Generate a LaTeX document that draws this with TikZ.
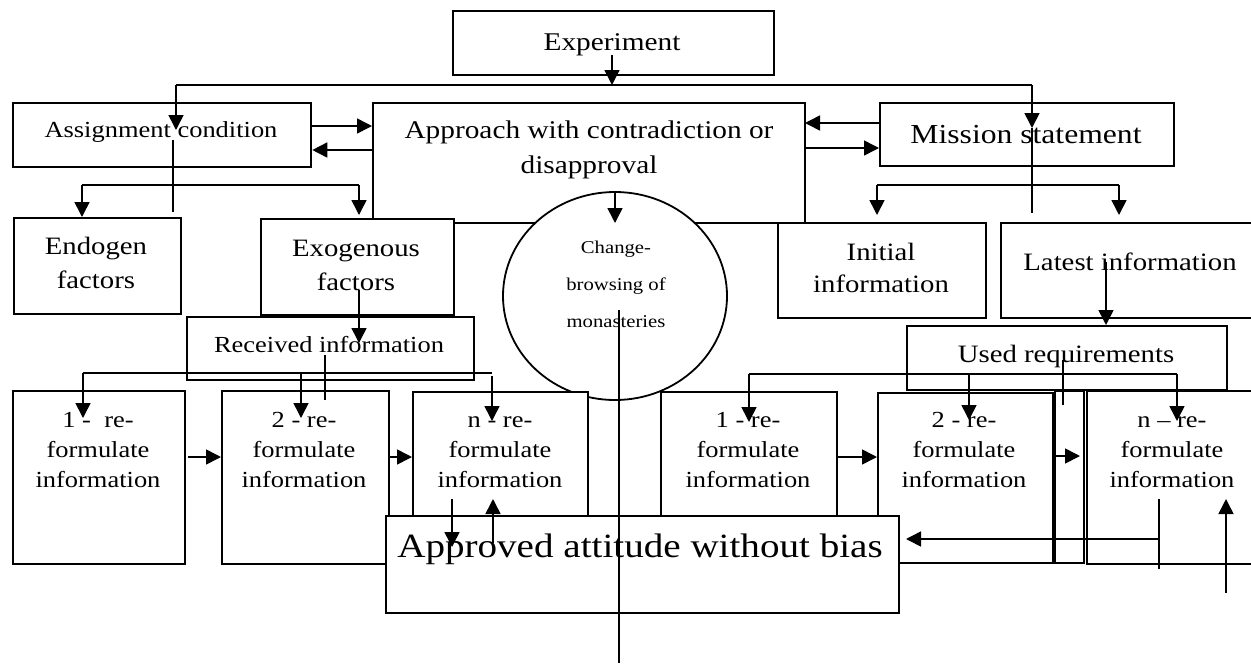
\documentclass[tikz,border=0pt]{standalone}
\usepackage{fontspec}
\setmainfont{Liberation Serif}[FakeStretch=1.15]
\usetikzlibrary{arrows.meta,shapes.geometric}
\begin{document}
\begin{tikzpicture}[x=1pt,y=-1pt,
  box/.style={draw,line width=2.3pt,fill=white,inner sep=0pt,anchor=north west},
  conn/.style={line width=1.6pt},
  arr/.style={conn,-{Triangle[length=15pt,width=15pt]}},
  txt/.style={inner sep=0pt,align=center,anchor=base},
  fa/.style={font=\fontsize{23}{30}\selectfont},
  fb/.style={font=\fontsize{25}{34}\selectfont},
  fc/.style={font=\fontsize{25.5}{35}\selectfont},
  fd/.style={font=\fontsize{27.5}{34}\selectfont},
  fe/.style={font=\fontsize{18}{37}\selectfont},
  ff/.style={font=\fontsize{34}{40}\selectfont},
]
\useasboundingbox (0,0) rectangle (1251,665);
\clip (0,0) rectangle (1251,665);

% top boxes
\node[box,minimum width=321pt,minimum height=64pt] (exp) at (452,10) {};
\node[box,minimum width=298pt,minimum height=64pt] (asg) at (12,102) {};
\node[box,minimum width=432pt,minimum height=120pt] (app) at (372,102) {};
\node[box,minimum width=294pt,minimum height=63pt] (mis) at (879,102) {};
\node[box,minimum width=167pt,minimum height=96pt] (endo) at (13,217) {};
\node[box,minimum width=193pt,minimum height=96pt] (exo) at (260,218) {};
\node[draw,ellipse,line width=1.8pt,fill=white,minimum width=224pt,minimum height=208pt,inner sep=0pt] (circ) at (615,296) {};
\node[box,minimum width=208pt,minimum height=95pt] (ini) at (777,222) {};
\node[box,minimum width=300pt,minimum height=95pt] (lat) at (1000,222) {};
\node[box,minimum width=287pt,minimum height=63pt] (rec) at (186,316) {};
\node[box,minimum width=320pt,minimum height=64pt] (used) at (906,325) {};

% row boxes
\node[box,minimum width=172pt,minimum height=173pt] (l1) at (12,390) {};
\node[box,minimum width=167pt,minimum height=173pt] (l2) at (221,390) {};
\node[box,minimum width=175pt,minimum height=172pt] (l3) at (412,391) {};
\node[box,minimum width=176pt,minimum height=171pt] (r1) at (660,391) {};
\node[box,minimum width=175pt,minimum height=170pt] (r2) at (877,392) {};
\node[box,minimum width=29pt,minimum height=172pt] (strip) at (1054,390) {};
\node[box,minimum width=200pt,minimum height=173pt] (r3) at (1086,390) {};
\node[box,minimum width=513pt,minimum height=97pt] (apv) at (385,515) {};

% texts (base = last line baseline)
\node[txt,fc] (expt) at (612,50) {Experiment};
\node[txt,fa] (asgt) at (161,137) {Assignment condition};
\node[txt,fc] (appt) at (589,173) {Approach with contradiction or\\disapproval};
\node[txt,fd] (mist) at (1026,143) {Mission statement};
\node[txt,fb] (endot) at (96,288) {Endogen\\factors};
\node[txt,fb] (exot) at (356,290) {Exogenous\\factors};
\node[txt,fe] (circt) at (616,327) {Change-\\browsing of\\monasteries};
\node[txt,font=\fontsize{25}{32}\selectfont] (init) at (881,292) {Initial\\information};
\node[txt,fb] (latt) at (1130,270) {Latest information};
\node[txt,fa] (rect) at (329,352) {Received information};
\node[txt,fb] (usedt) at (1066,362) {Used requirements};
\node[txt,fa] (l1t) at (98,487) {1 -\ \ re-\\formulate\\information};
\node[txt,fa] (l2t) at (304,487) {2 - re-\\formulate\\information};
\node[txt,fa] (l3t) at (500,487) {n - re-\\formulate\\information};
\node[txt,fa] (r1t) at (748,487) {1 - re-\\formulate\\information};
\node[txt,fa] (r2t) at (964,487) {2 - re-\\formulate\\information};
\node[txt,fa] (r3t) at (1172,487) {n -- re-\\formulate\\information};
\node[txt,ff] (apvt) at (640,557) {Approved attitude without bias};

% coordinates
\coordinate (e0) at (612,55);
\coordinate (bl) at (176,85);
\coordinate (br) at (1032,85);
\coordinate (bm) at (612,85);

% connectors
\draw[arr] (e0) -- (bm);
\draw[conn] (bl) -- (br);
\draw[arr] (bl) -- (176,130);
\draw[arr] (br) -- (1032,128);
\draw[conn] (1032,128) -- (1032,213);
\draw[conn] (173,140) -- (173,212);

\draw[arr] (asg.east |- 0,126) -- (app.west |- 0,126);
\draw[arr] (app.west |- 0,150) -- (asg.east |- 0,150);
\draw[arr] (mis.west |- 0,123) -- (805,123);
\draw[arr] (app.east |- 0,148) -- (mis.west |- 0,148);

\draw[conn] (82,185) -- (359,185);
\draw[arr] (82,185) -- (endo.north -| 82,0);
\draw[arr] (359,185) -- (359,215);
\draw[conn] (877,185) -- (1119,185);
\draw[arr] (877,185) -- (877,215);
\draw[arr] (1119,185) -- (1119,215);

\draw[arr] (circ.north -| 615,0) -- (615,223);
\draw[conn] (619,310) -- (619,663);

\draw[arr] (359,290) -- (359,343);
\draw[conn] (325,355) -- (325,400);
\draw[conn] (83,373) -- (492,373);
\draw[arr] (83,373) -- (83,418);
\draw[arr] (301,373) -- (301,418);
\draw[arr] (492,376) -- (492,421);

\draw[arr] (188,457) -- (l2.west |- 0,457);
\draw[arr] (389,457) -- (l3.west |- 0,457);
\draw[arr] (837,457) -- (r2.west |- 0,457);
\draw[arr] (1054,456) -- (1080,456);

\draw[arr] (1106,262) -- (used.north -| 1106,0);
\draw[conn] (749,374) -- (1177,374);
\draw[arr] (749,374) -- (749,422);
\draw[arr] (969,374) -- (969,420);
\draw[arr] (1177,374) -- (1177,421);
\draw[conn] (1063,360) -- (1063,405);

\draw[arr] (452,499) -- (452,547);
\draw[arr] (493,543) -- (493,499);
\draw[conn] (1159,499) -- (1159,569);
\draw[arr] (1159,539) -- (906,539);
\draw[arr] (1226,593) -- (1226,499);
\end{tikzpicture}
\end{document}
